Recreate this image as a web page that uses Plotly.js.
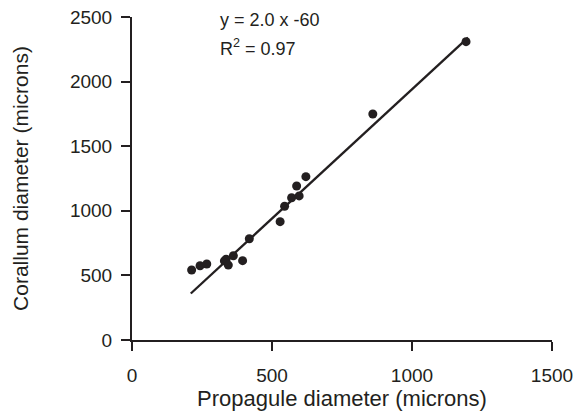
<!DOCTYPE html>
<html>
<head>
<meta charset="utf-8">
<script src="https://cdn.plot.ly/plotly-3.0.1.min.js"></script>
<style>html,body{margin:0;padding:0;background:#fff;}#chart{width:582px;height:415px;}</style>
</head>
<body>
<div id="chart"></div>
<script>
// Propagule diameter (microns)
const propaguleX = [213, 243, 267, 330, 336, 344, 362, 395, 419, 529, 545, 570, 588, 597, 621, 860, 1193];
// Corallum diameter (microns)
const corallumY = [542, 575, 588, 612, 625, 580, 652, 614, 784, 916, 1035, 1101, 1192, 1115, 1264, 1749, 2309];
// Regression line endpoints (y = 2.0 x - 60)
const fitX = [210, 1200];
const fitY = [360, 2340];
const xTicks = [0, 500, 1000, 1500];
const yTicks = [0, 500, 1000, 1500, 2000, 2500];
const eqText = "y = 2.0 x -60";
const r2Text = "R<sup>2</sup> = 0.97";

const ink = "#231f20";
const fam = "Liberation Sans, Arial, sans-serif";

const traces = [
  {x: fitX, y: fitY, type: "scatter", mode: "lines", line: {color: ink, width: 2.3}, hoverinfo: "skip"},
  {x: propaguleX, y: corallumY, type: "scatter", mode: "markers", marker: {color: ink, size: 9}}
];

const layout = {
  width: 582, height: 415,
  margin: {l: 132, r: 30, t: 17, b: 75},
  paper_bgcolor: "#fff", plot_bgcolor: "#fff",
  showlegend: false,
  font: {family: fam, size: 19, color: ink},
  xaxis: {
    range: [0, 1500], tickvals: xTicks, ticktext: xTicks.map(String),
    showgrid: false, zeroline: false, showline: true, linecolor: ink, linewidth: 2,
    ticks: "outside", ticklen: 9, tickwidth: 2, tickcolor: ink, ticklabelstandoff: 8,
    tickfont: {family: fam, size: 19, color: ink},
    title: {text: "Propagule diameter (microns)", font: {family: fam, size: 22, color: ink}, standoff: 2}
  },
  yaxis: {
    range: [0, 2500], tickvals: yTicks, ticktext: yTicks.map(String),
    showgrid: false, zeroline: false, showline: true, linecolor: ink, linewidth: 2,
    ticks: "outside", ticklen: 9, tickwidth: 2, tickcolor: ink, ticklabelstandoff: 5,
    tickfont: {family: fam, size: 19, color: ink},
    title: {text: "Corallum diameter (microns)", font: {family: fam, size: 21, color: ink}, standoff: 36}
  },
  annotations: [
    {xref: "paper", yref: "paper", x: 0.205, y: 0.99, xanchor: "left", yanchor: "middle", text: eqText, showarrow: false, font: {family: fam, size: 18, color: ink}},
    {xref: "paper", yref: "paper", x: 0.205, y: 0.905, xanchor: "left", yanchor: "middle", text: r2Text, showarrow: false, font: {family: fam, size: 18, color: ink}}
  ]
};

Plotly.newPlot("chart", traces, layout, {staticPlot: true, displayModeBar: false});
</script>
</body>
</html>
